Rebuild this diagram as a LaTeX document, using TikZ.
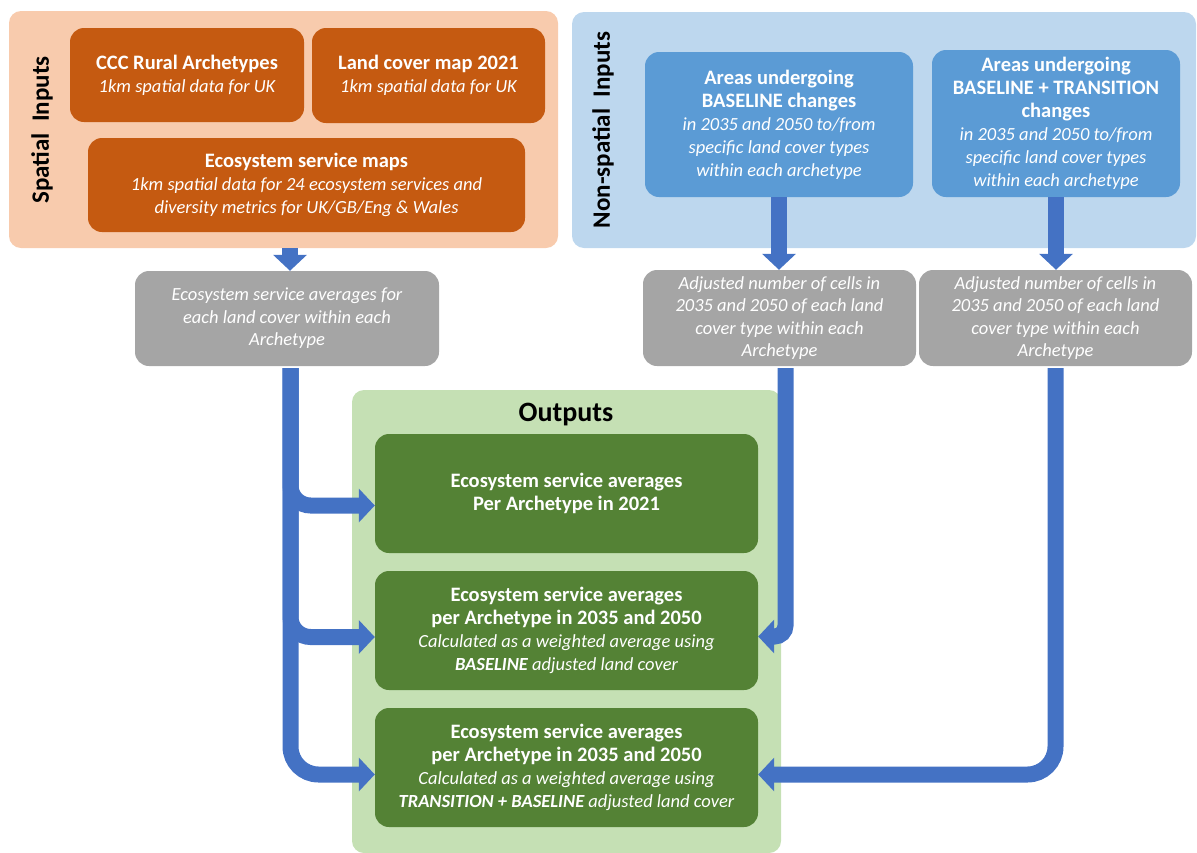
\documentclass[tikz,border=0pt]{standalone}
\usepackage{fontspec}
\setmainfont{Carlito}
\usetikzlibrary{arrows.meta}
\definecolor{peach}{HTML}{F8CBAD}
\definecolor{rust}{HTML}{C55A11}
\definecolor{paleblue}{HTML}{BDD7EE}
\definecolor{midblue}{HTML}{5B9BD5}
\definecolor{boxgray}{HTML}{A5A5A5}
\definecolor{palegreen}{HTML}{C5E0B4}
\definecolor{darkgreen}{HTML}{548235}
\definecolor{arrowblue}{HTML}{4472C4}
\newcommand{\myhd}[1]{{\fontsize{20.5}{23}\selectfont\bfseries #1}}
\newcommand{\myit}[1]{{\itshape #1}}
\tikzset{
  panel/.style={rounded corners=12pt, inner sep=0pt, draw=none},
  box/.style={rounded corners=14pt, text=white, align=center, inner sep=0pt, draw=none,
    font=\fontsize{18.5}{23}\selectfont},
  obox/.style={box, fill=rust},
  bbox/.style={box, fill=midblue},
  gbox/.style={box, fill=boxgray, font=\fontsize{18.5}{22.4}\selectfont\itshape},
  grbox/.style={box, fill=darkgreen},
  sidelabel/.style={rotate=90, font=\fontsize{25}{30}\selectfont\bfseries, text=black},
  flow/.style={draw=arrowblue, line width=16pt, -{Triangle[width=33pt,length=16pt]}, rounded corners=20pt},
}
\begin{document}
\begin{tikzpicture}[x=1pt,y=-1pt]
\useasboundingbox (0,0) rectangle (1197,852);
% panels
\node[panel, fill=peach, minimum width=549pt, minimum height=237pt] (spatial) at (283.5,129.5) {};
\node[panel, fill=paleblue, minimum width=624pt, minimum height=236pt] (nonspatial) at (884,130) {};
\node[panel, fill=palegreen, minimum width=429pt, minimum height=463pt] (outputs) at (566.5,621.5) {};
% side labels
\node[sidelabel] (splabel) at (42,130) {Spatial\ \ Inputs};
\node[sidelabel] (nslabel) at (603,130) {Non-spatial\ \ Inputs};
\node[font=\fontsize{28}{32}\selectfont\bfseries, text=black] (outlabel) at (566,415) {Outputs};
% spatial inputs
\node[obox, minimum width=234pt, minimum height=94pt] (ccc) at (187,75)
  {\myhd{CCC Rural Archetypes}\\\myit{1km spatial data for UK}};
\node[obox, minimum width=233pt, minimum height=95pt] (lcm) at (428.5,75.5)
  {\myhd{Land cover map 2021}\\\myit{1km spatial data for UK}};
\node[obox, minimum width=437pt, minimum height=94pt] (esmaps) at (306.5,185)
  {\myhd{Ecosystem service maps}\\\myit{1km spatial data for 24 ecosystem services and}\\\myit{diversity metrics for UK/GB/Eng \& Wales}};
% non-spatial inputs
\node[bbox, minimum width=268pt, minimum height=145pt] (blue1) at (779,124.5)
  {\myhd{Areas undergoing}\\\myhd{BASELINE changes}\\\myit{in 2035 and 2050 to/from}\\\myit{specific land cover types}\\\myit{within each archetype}};
\node[bbox, minimum width=248pt, minimum height=147pt] (blue2) at (1056,123.5)
  {\myhd{Areas undergoing}\\\myhd{BASELINE + TRANSITION}\\\myhd{changes}\\\myit{in 2035 and 2050 to/from}\\\myit{specific land cover types}\\\myit{within each archetype}};
% gray intermediate boxes
\node[gbox, minimum width=304pt, minimum height=95pt] (gray1) at (287,318.5)
  {Ecosystem service averages for\\each land cover within each\\Archetype};
\node[gbox, minimum width=273pt, minimum height=96pt] (gray2) at (779.5,318)
  {Adjusted number of cells in\\2035 and 2050 of each land\\cover type within each\\Archetype};
\node[gbox, minimum width=273pt, minimum height=96pt] (gray3) at (1055.5,318)
  {Adjusted number of cells in\\2035 and 2050 of each land\\cover type within each\\Archetype};
% outputs
\node[grbox, minimum width=383pt, minimum height=119pt] (out1) at (566.5,493.5)
  {\myhd{Ecosystem service averages}\\\myhd{Per Archetype in 2021}};
\node[grbox, minimum width=383pt, minimum height=119pt] (out2) at (566.5,630.5)
  {\myhd{Ecosystem service averages}\\\myhd{per Archetype in 2035 and 2050}\\\myit{Calculated as a weighted average using}\\\myit{\textbf{BASELINE} adjusted land cover}};
\node[grbox, minimum width=383pt, minimum height=119pt] (out3) at (566.5,767.5)
  {\myhd{Ecosystem service averages}\\\myhd{per Archetype in 2035 and 2050}\\\myit{Calculated as a weighted average using}\\\myit{\textbf{TRANSITION + BASELINE} adjusted land cover}};
% connectors
\draw[flow] ([xshift=3pt]gray1.north |- spatial.south) -- ([xshift=3pt]gray1.north);
\draw[flow] (blue1.south) -- (blue1.south |- gray2.north);
\draw[flow] (blue2.south) -- (blue2.south |- gray3.north);
\coordinate (lt) at ([xshift=3.5pt,yshift=-2pt]gray1.south);
\draw[flow] (lt) |- ([yshift=-12pt]out1.west);
\draw[flow] (lt) |- ([yshift=-6.5pt]out2.west);
\draw[flow, rounded corners=28pt] (lt) |- ([yshift=-7pt]out3.west);
\draw[flow, rounded corners=11pt] ([xshift=6pt,yshift=-2pt]gray2.south) |- ([yshift=-6pt]out2.east);
\draw[flow, rounded corners=28pt] ([yshift=-2pt]gray3.south) |- ([yshift=-7pt]out3.east);
\end{tikzpicture}
\end{document}
